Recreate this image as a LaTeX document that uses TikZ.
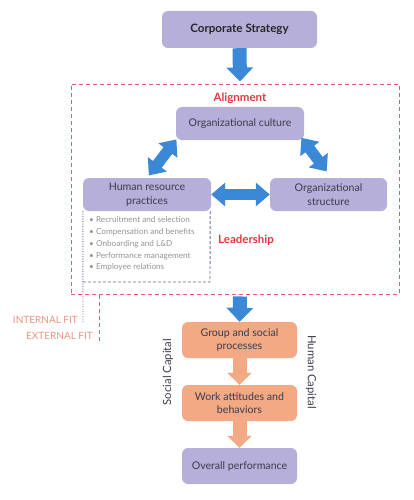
\documentclass[tikz,border=0pt]{standalone}
\usepackage{fontspec}
\setmainfont{Lato}
\usetikzlibrary{arrows.meta,calc}
\definecolor{boxpurple}{HTML}{B6AFD9}
\definecolor{boxorange}{HTML}{F2A984}
\definecolor{arrowblue}{HTML}{3A88D6}
\definecolor{arroworange}{HTML}{F2A984}
\definecolor{dashred}{HTML}{E35B6B}
\definecolor{labred}{HTML}{E0393E}
\definecolor{fitsalmon}{HTML}{E9967E}
\definecolor{listgrey}{HTML}{939393}
\definecolor{txtdark}{HTML}{3B3B4B}
\definecolor{dotpurple}{HTML}{6F6A9E}
\begin{document}
\begin{tikzpicture}[x=1pt,y=-1pt,
  pbox/.style={fill=boxpurple, rounded corners=6pt, text=txtdark, align=center,
    font=\fontsize{10.6}{13.5}\selectfont, inner sep=0pt},
  obox/.style={pbox, fill=boxorange},
  bigblue/.style={arrowblue, line width=14pt, -{Triangle[length=14pt,width=26pt]}},
  dblblue/.style={arrowblue, line width=11pt, {Triangle[length=14pt,width=23pt]}-{Triangle[length=14pt,width=23pt]}},
  orarrow/.style={arroworange, line width=14pt, -{Triangle[length=12pt,width=24pt]}},
  redlab/.style={text=labred, font=\fontsize{11.5}{13}\selectfont\bfseries},
  fitlab/.style={text=fitsalmon, font=\fontsize{10}{12}\selectfont, anchor=east, inner sep=0pt},
  reddash/.style={dashred, line width=0.9pt, dash pattern=on 4pt off 3pt},
  purpdash/.style={dotpurple, line width=0.9pt, dash pattern=on 3pt off 2pt},
  purpdot/.style={dotpurple, line width=0.9pt, dash pattern=on 1pt off 1.5pt},
  sidelab/.style={text=txtdark, font=\fontsize{11.3}{13}\selectfont, inner sep=0pt}]
\useasboundingbox (0,0) rectangle (414,500);

% nodes
\node[pbox, minimum width=155, minimum height=37, font=\fontsize{11.6}{13}\selectfont\bfseries, text=black!85] (corp) at (239.5,29.5) {Corporate Strategy};
\node[draw=dashred, reddash, minimum width=328, minimum height=210, inner sep=0pt] (align) at (235,189) {};
\node[redlab] (alignlab) at (240,98) {Alignment};
\node[pbox, minimum width=128, minimum height=33] (culture) at (240,123.5) {Organizational culture};
\node[pbox, minimum width=128, minimum height=33] (hr) at (147,194.5) {Human resource\\practices};
\node[pbox, minimum width=117, minimum height=33] (struct) at (328.5,194.5) {Organizational\\structure};
\node[redlab] (lead) at (246,240) {Leadership};
\node[anchor=north west, text=listgrey, align=left, inner sep=0pt,
  font=\fontsize{8.2}{11.8}\selectfont] (list) at (89,216.5)
  {• Recruitment and selection\\
   • Compensation and benefits\\
   • Onboarding and L\&D\\
   • Performance management\\
   • Employee relations};
\node[obox, minimum width=115, minimum height=36] (group) at (239.5,340) {Group and social\\processes};
\node[obox, minimum width=115, minimum height=36] (work) at (239.5,403) {Work attitudes and\\behaviors};
\node[pbox, minimum width=115, minimum height=36] (perf) at (239.5,466) {Overall performance};
\node[sidelab, rotate=90] (social) at (168,372) {Social Capital};
\node[sidelab, rotate=-90] (human) at (311,372) {Human Capital};
\node[fitlab] (intfit) at (78,320) {INTERNAL FIT};
\node[fitlab] (extfit) at (93,336) {EXTERNAL FIT};

% HR list box borders
\coordinate (lt) at (hr.south west);
\coordinate (rt) at ($(hr.south east)+(-1,0)$);
\coordinate (lb) at (83,282);
\coordinate (rb) at (210,282);
\coordinate (ld) at (83,323);
\draw[purpdash] (rt) -- (rb) -- (lb);
\draw[purpdot] (lt) -- (ld);

% external fit line
\coordinate (ea) at (99,295);
\coordinate (eb) at (99,341);
\draw[reddash] (ea) -- (eb);

% arrows
\draw[bigblue] (corp.south) -- ($(align.north)+(5,-2)$);
\draw[bigblue] ($(align.south)+(5,2)$) -- (group.north);
\draw[dblblue, shorten >=3pt, shorten <=-1pt] (culture.south west) -- (hr.north);
\draw[dblblue, shorten >=8pt, shorten <=-3pt] ($(culture.south east)+(-1,0)$) -- ($(struct.north)+(3,0)$);
\draw[dblblue] (hr.east) -- (struct.west);
\draw[orarrow] (group.south) -- (work.north);
\draw[orarrow] (work.south) -- (perf.north);
\end{tikzpicture}
\end{document}
